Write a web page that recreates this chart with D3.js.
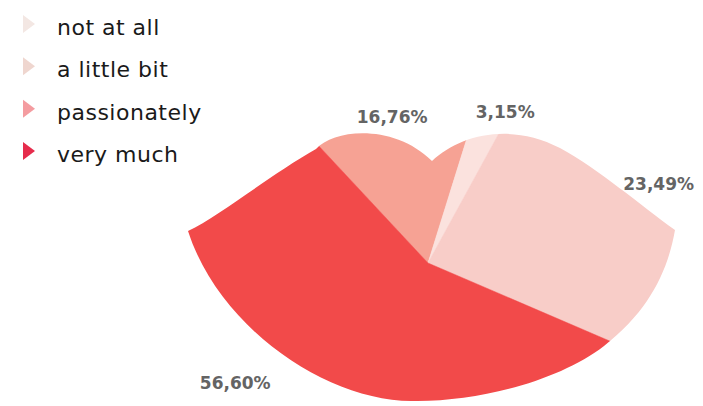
<!DOCTYPE html>
<html>
<head>
<meta charset="utf-8">
<script src="https://cdn.jsdelivr.net/npm/d3@7"></script>
<style>
  body { margin: 0; background: #fff; }
  .legend text { font-family: "DejaVu Sans", sans-serif; font-size: 22px; letter-spacing: 0.5px; fill: #1a1a1a; }
  .label { font-family: "DejaVu Sans", sans-serif; font-weight: bold; font-size: 17px; fill: #646464; }
</style>
</head>
<body>
<div id="chart"></div>
<script>
// answers, in legend order
var categories = ["not at all", "a little bit", "passionately", "very much"];
var values = [3.15, 23.49, 16.76, 56.60];
// order the slices go round the lips, clockwise from the upper left
var sliceOrder = [2, 0, 1, 3];
var sliceColors = ["#fbe2de", "#f8cdc8", "#f6a294", "#f24a4a"];
var legendColors = ["#f3e7e3", "#efd6cf", "#f49ca0", "#e62c4c"];

var width = 703, height = 406;
var cx = 428, cy = 263;

// label placement: distance from centre and a small turn off the slice middle (degrees)
var labelRadius = [170, 244, 150, 227];
var labelTurn = [4, 0, -1, 23];

var svg = d3.select("#chart").append("svg")
    .attr("width", width)
    .attr("height", height);

// lips outline used as a clip, relative to the pie centre
var lips = "M188,231 C220,216 270,175 316,149 C335,128 395,124 432,161 " +
    "C460,135 510,122 560,148 C600,170 640,205 675,230 C668,270 650,310 604,346 " +
    "C560,380 480,402 413,401 C330,402 220,330 188,231 Z";

svg.append("clipPath")
    .attr("id", "lipsClip")
    .append("path")
    .attr("d", lips)
    .attr("transform", "translate(" + (-cx) + "," + (-cy) + ")");

var pie = d3.pie()
    .sort(null)
    .value(function(i) { return values[i]; })
    .startAngle(-43 * Math.PI / 180)
    .endAngle((360 - 43) * Math.PI / 180);

var arcs = pie(sliceOrder);

var arc = d3.arc()
    .innerRadius(0)
    .outerRadius(420);

var g = svg.append("g")
    .attr("transform", "translate(" + cx + "," + cy + ")");

g.append("g")
    .attr("clip-path", "url(#lipsClip)")
    .selectAll("path")
    .data(arcs)
    .enter().append("path")
    .attr("d", arc)
    .style("fill", function(d) { return sliceColors[d.data]; })
    .style("stroke", function(d) { return sliceColors[d.data]; })
    .style("stroke-width", 0.5);

// percentage labels, comma as decimal mark
var locale = d3.formatLocale({ decimal: ",", thousands: ".", grouping: [3], currency: ["", "€"] });
var fmt = locale.format(".2f");

g.selectAll("text.label")
    .data(arcs)
    .enter().append("text")
    .attr("class", "label")
    .attr("text-anchor", "middle")
    .attr("dy", "0.36em")
    .attr("x", function(d) {
        var a = (d.startAngle + d.endAngle) / 2 + labelTurn[d.data] * Math.PI / 180;
        return labelRadius[d.data] * Math.sin(a);
    })
    .attr("y", function(d) {
        var a = (d.startAngle + d.endAngle) / 2 + labelTurn[d.data] * Math.PI / 180;
        return -labelRadius[d.data] * Math.cos(a);
    })
    .text(function(d) { return fmt(values[d.data]) + "%"; });

// legend with small triangle markers
var legendY = d3.scalePoint()
    .domain(categories)
    .range([35, 162]);

var legend = svg.selectAll("g.legend")
    .data(categories)
    .enter().append("g")
    .attr("class", "legend")
    .attr("transform", function(d) { return "translate(0," + legendY(d) + ")"; });

legend.append("path")
    .attr("d", "M23,-20 L35,-11 L23,-2 Z")
    .style("fill", function(d, i) { return legendColors[i]; });

legend.append("text")
    .attr("x", 57)
    .attr("y", 0)
    .text(function(d) { return d; });
</script>
</body>
</html>
